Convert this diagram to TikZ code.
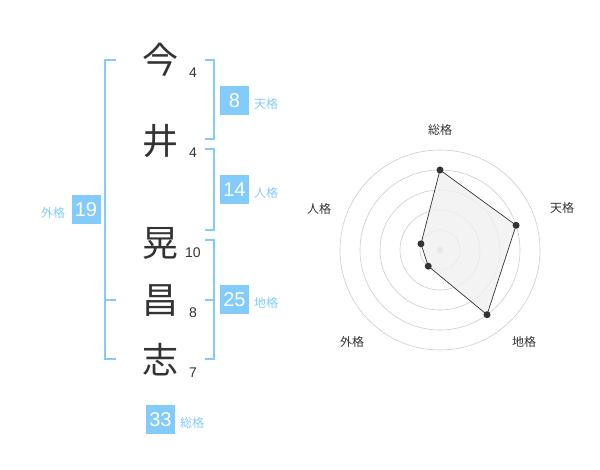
\documentclass[tikz,border=0pt]{standalone}
\usepackage{fontspec}
\setmainfont{Liberation Sans}
\newfontfamily\cjk{Noto Sans CJK JP}
\usepackage{tikz}
\definecolor{sky}{HTML}{82CBFA}
\definecolor{ink}{HTML}{333333}

\begin{document}
\begin{tikzpicture}[x=1pt,y=-1pt,
    kanji/.style={inner sep=0,text=ink,font=\cjk\fontsize{36}{36}\selectfont},
    stroke/.style={inner sep=0,text=ink,font=\fontsize{14}{14}\selectfont},
    brk/.style={draw=sky,line width=2pt},
    numbox/.style={fill=sky,text=white,minimum size=29pt,inner sep=0,font=\fontsize{20}{20}\selectfont},
    kaku/.style={inner sep=0,text=sky,font=\cjk\fontsize{12}{12}\selectfont},
    axis/.style={inner sep=0,text=ink,font=\cjk\fontsize{12}{12}\selectfont},
    ring/.style={draw=black!20,line width=0.6pt},
    dot/.style={circle,fill=ink,inner sep=0,minimum size=7pt}]
  \useasboundingbox (0,0) rectangle (600,470);
  % name
  \node [kanji](C1) at (160,60) {今};
  \node [kanji](C2) at (160,141) {井};
  \node [kanji](C3) at (160,243) {晃};
  \node [kanji](C4) at (160,301) {昌};
  \node [kanji](C5) at (160,360) {志};
  \node [stroke](N1) at (193,73) {4};
  \node [stroke](N2) at (193,153) {4};
  \node [stroke](N3) at (193,253) {10};
  \node [stroke](N4) at (193,313) {8};
  \node [stroke](N5) at (193,373) {7};
  % brackets
  \draw [brk] (116,60) -- (105,60) -- (105,359) -- (116,359);
  \draw [brk] (105,300) -- (116,300);
  \draw [brk] (205,60) -- (214,60) -- (214,139) -- (205,139);
  \draw [brk] (205,149) -- (214,149) -- (214,230) -- (205,230);
  \draw [brk] (205,240) -- (214,240) -- (214,359) -- (205,359);
  \draw [brk] (205,300) -- (214,300);
  % scores
  \node [numbox](Ten) at (234.5,100.5) {8};
  \node [kaku](TenL) at (266,104) {天格};
  \node [numbox](Jin) at (234.5,190) {14};
  \node [kaku](JinL) at (266,193) {人格};
  \node [numbox](Chi) at (234.5,300) {25};
  \node [kaku](ChiL) at (266,303) {地格};
  \node [numbox](Gai) at (86,210) {19};
  \node [kaku](GaiL) at (53,213) {外格};
  \node [numbox](Sou) at (160.5,419.5) {33};
  \node [kaku](SouL) at (192,423) {総格};
  % radar
  \begin{scope}[shift={(440,250)}]
    \foreach \r in {20,40,60,80,100}
      \draw [ring] (0,0) circle [radius=\r pt];
    \fill [black!20] (0,0) circle [radius=3.5pt];
    \coordinate (pS) at (90:80pt);
    \coordinate (pT) at (18:80pt);
    \coordinate (pC) at (-54:80pt);
    \coordinate (pG) at (-126:20pt);
    \coordinate (pJ) at (162:20pt);
    \draw [ink,line width=0.7pt,fill=black!6,fill opacity=0.8]
      (pS) -- (pT) -- (pC) -- (pG) -- (pJ) -- cycle;
    \foreach \p in {pS,pT,pC,pG,pJ}
      \node [dot] at (\p) {};
  \end{scope}
  \node [axis](aS) at (440,130) {総格};
  \node [axis](aT) at (562,208) {天格};
  \node [axis](aC) at (524,342) {地格};
  \node [axis](aG) at (352,342) {外格};
  \node [axis](aJ) at (319,209) {人格};
\end{tikzpicture}
\end{document}
